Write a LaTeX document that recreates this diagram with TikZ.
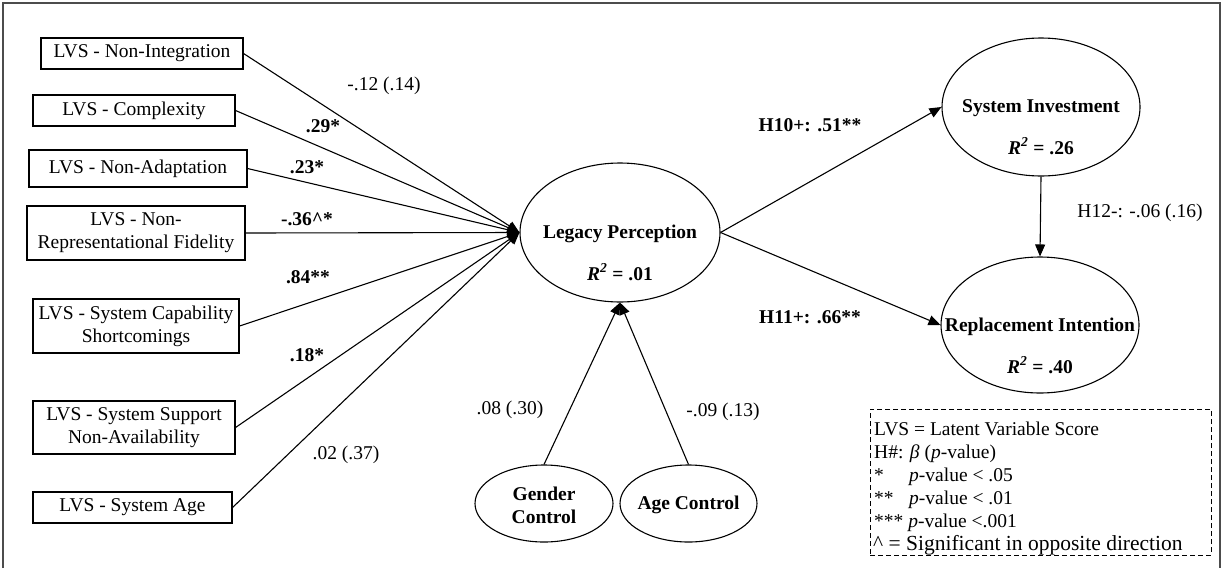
\documentclass[tikz,border=0pt]{standalone}
\usepackage{fontspec}
\setmainfont{Liberation Serif}
\usetikzlibrary{arrows.meta,shapes.geometric}
\begin{document}
\begin{tikzpicture}[x=1pt,y=-1pt,
  every node/.style={font=\fontsize{19.5}{23}\selectfont},
  lvsbox/.style={draw, line width=1.1pt, inner sep=0pt, align=center},
  construct/.style={draw, ellipse, line width=1.1pt, inner sep=0pt},
  link/.style={line width=1.1pt, -{Triangle[length=12pt,width=10pt]}},
  coef/.style={inner sep=0pt},
  bcoef/.style={inner sep=0pt, font=\fontsize{19.5}{23}\selectfont\bfseries},
  frameline/.style={draw=black!70, line width=1.4pt},
  keybox/.style={draw, line width=1pt, dash pattern=on 5pt off 3pt, inner sep=0pt},
  keyline/.style={anchor=base west, inner sep=0pt}
]
\useasboundingbox (0,0) rectangle (1225,568);
% outer frame
\draw[frameline] (3,568) -- (3,3) -- (1220,3) -- (1220,568);

% latent variable score boxes
\node[lvsbox, minimum width=202pt, minimum height=31pt] (ni)  at (142,53.5)  {LVS - Non-Integration};
\node[lvsbox, minimum width=202pt, minimum height=31pt] (cx)  at (134,110.5) {LVS - Complexity};
\node[lvsbox, minimum width=218pt, minimum height=37pt] (na)  at (138,168.5) {LVS - Non-Adaptation};
\node[lvsbox, minimum width=218pt, minimum height=54pt] (nrf) at (136,233)   {LVS - Non-\\Representational Fidelity};
\node[lvsbox, minimum width=206pt, minimum height=54pt] (scs) at (136,326)   {LVS - System Capability\\Shortcomings};
\node[lvsbox, minimum width=202pt, minimum height=53pt] (ssn) at (134,427.5) {LVS - System Support\\Non-Availability};
\node[lvsbox, minimum width=199pt, minimum height=31pt] (sa)  at (132.5,507.5) {LVS - System Age};

% constructs
\node[construct, minimum width=200pt, minimum height=139pt] (lp) at (620,232.5) {};
\node[bcoef] (lpname) at (620,234) {Legacy Perception};
\node[bcoef] (lpr2)   at (620,272) {\textit{R\textsuperscript{2}} = .01};

\node[construct, minimum width=198pt, minimum height=138pt] (si) at (1041,107) {};
\node[bcoef] (siname) at (1041,108) {System Investment};
\node[bcoef] (sir2)   at (1041,146) {\textit{R\textsuperscript{2}} = .26};

\node[construct, minimum width=198pt, minimum height=136pt] (ri) at (1040,325) {};
\node[bcoef] (riname) at (1040,327) {Replacement Intention};
\node[bcoef] (rir2)   at (1040,365) {\textit{R\textsuperscript{2}} = .40};

\node[construct, minimum width=138pt, minimum height=77pt] (gc) at (544,503.5) {};
\node[bcoef, align=center] (gcname) at (544,505) {Gender\\Control};
\node[construct, minimum width=137pt, minimum height=77pt] (ac) at (688.5,503.5) {};
\node[bcoef] (acname) at (688.5,505) {Age Control};

% paths into legacy perception
\foreach \src in {ni,cx,na,nrf,scs,ssn,sa}
  \draw[link] (\src.east) -- (lp.west);
\draw[link] (gc.north) -- (lp.south);
\draw[link] (ac.north) -- (lp.south);

% outcome paths
\draw[link] (lp.east) -- (si.west);
\draw[link] (lp.east) -- (ri.west);
\draw[link] (si.south) -- (ri.north);

% path coefficients
\node[coef]  (c1) at (384,86)  {-.12 (.14)};
\node[bcoef] (c2) at (323,126) {.29*};
\node[bcoef] (c3) at (307,167) {.23*};
\node[bcoef] (c4) at (307,219) {-.36\textasciicircum*};
\node[bcoef] (c5) at (308,277) {.84**};
\node[bcoef] (c6) at (307,355) {.18*};
\node[coef]  (c7) at (346,455) {.02 (.37)};
\node[coef]  (c8) at (510,410) {.08 (.30)};
\node[coef]  (c9) at (723,412) {-.09 (.13)};
\node[bcoef] (h10) at (810,125) {H10+: .51**};
\node[bcoef] (h11) at (810,317) {H11+: .66**};
\node[coef]  (h12) at (1140,213) {H12-: -.06 (.16)};

% key
\node[keybox, minimum width=341pt, minimum height=146pt] (key) at (1040.5,482) {};
\node[keyline] (k1) at (874,435) {LVS = Latent Variable Score};
\node[keyline] (k2) at (874,458) {H\#: \textit{β} (\textit{p}-value)};
\node[keyline] (k3) at (874,481) {\makebox[35pt][l]{*}\textit{p}-value < .05};
\node[keyline] (k4) at (874,504) {\makebox[35pt][l]{**}\textit{p}-value < .01};
\node[keyline] (k5) at (874,527) {*** \textit{p}-value <.001};
\node[keyline, font=\fontsize{21.5}{25}\selectfont] (k6) at (873,550) {\textasciicircum{} = Significant in opposite direction};
\end{tikzpicture}
\end{document}
